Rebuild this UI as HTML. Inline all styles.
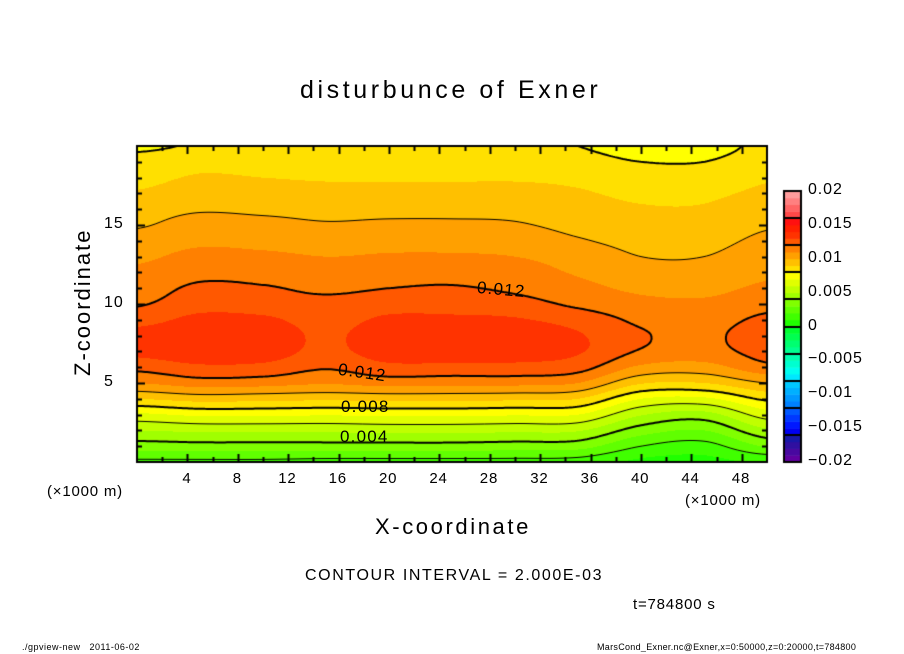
<!DOCTYPE html>
<html><head><meta charset="utf-8"><style>
body{margin:0;background:#fff;width:904px;height:654px;overflow:hidden;position:relative;font-family:"Liberation Sans",sans-serif}
.t{position:absolute;white-space:nowrap;color:#000}
canvas{position:absolute;left:0;top:0}
</style></head><body>
<canvas id="c" width="904" height="654"></canvas>
<div class="t" style="left:300px;top:76px;font-size:25px;letter-spacing:3.6px">disturbunce of Exner</div>
<div class="t" style="left:10px;top:292px;font-size:22px;letter-spacing:2px;transform:rotate(-90deg);transform-origin:72px 12px;width:144px">Z-coordinate</div>
<div class="t" style="left:375px;top:514px;font-size:22px;letter-spacing:2.6px">X-coordinate</div>
<div class="t" style="left:47px;top:483px;font-size:15px;letter-spacing:0.8px">(×1000 m)</div>
<div class="t" style="left:685px;top:492px;font-size:15px;letter-spacing:0.8px">(×1000 m)</div>
<div class="t" style="left:305px;top:567px;font-size:16px;letter-spacing:1.6px">CONTOUR INTERVAL = 2.000E-03</div>
<div class="t" style="left:633px;top:596px;font-size:15px;letter-spacing:0.8px">t=784800 s</div>
<div class="t" style="left:22px;top:642px;font-size:9px;letter-spacing:0.5px">./gpview-new&nbsp;&nbsp;&nbsp;2011-06-02</div>
<div class="t" style="left:597px;top:642px;font-size:9px;letter-spacing:0.3px">MarsCond_Exner.nc@Exner,x=0:50000,z=0:20000,t=784800</div>
<div id="lab"></div>
<script>
const xs=[0,5,10,15,20,25,30,35,40,45,50];
const zs=[0,1,2,3,4,5,6,7,8,9,10,11,12,13,14,15,16,17,18,19,20];
const col0=[.0018,.0035,.0050,.0068,.0090,.0110,.0123,.0133,.0134,.0126,.0119,.0115,.0112,.0108,.0104,.0099,.0096,.0091,.0087,.0084,.0078];
const col5=[.0018,.0036,.0052,.0072,.0094,.0115,.0128,.0137,.0138,.0133,.0126,.0122,.0117,.0113,.0108,.0104,.0099,.0095,.0091,.0087,.0081];
const col10=[.0018,.0036,.0052,.0072,.0093,.0114,.0127,.0136,.0137,.0132,.0125,.0121,.0116,.0112,.0107,.0103,.0098,.0094,.0090,.0086,.0081];
const col15=[.0017,.0036,.0052,.0071,.0092,.0111,.0121,.0127,.0128,.0126,.0123,.0118,.0114,.0110,.0106,.0101,.0097,.0093,.0089,.0085,.0080];
const col20=[.0017,.0036,.0053,.0072,.0093,.0114,.0127,.0136,.0137,.0132,.0126,.0120,.0116,.0111,.0107,.0102,.0097,.0093,.0089,.0086,.0081];
const col25=[.0017,.0036,.0053,.0072,.0093,.0113,.0127,.0136,.0137,.0132,.0126,.0121,.0116,.0111,.0107,.0102,.0097,.0093,.0089,.0086,.0081];
const col30=[.0017,.0035,.0052,.0071,.0092,.0113,.0127,.0135,.0136,.0131,.0124,.0118,.0114,.0110,.0106,.0101,.0097,.0093,.0089,.0085,.0081];
const col35=[.0016,.0034,.0051,.0070,.0090,.0110,.0124,.0131,.0131,.0126,.0118,.0113,.0109,.0106,.0101,.0097,.0094,.0091,.0088,.0084,.0080];
const col40=[.0008,.0020,.0035,.0051,.0070,.0091,.0108,.0119,.0121,.0118,.0113,.0108,.0104,.0100,.0097,.0094,.0091,.0088,.0085,.0080,.0075];
const col45=[.0007,.0016,.0030,.0046,.0068,.0090,.0106,.0116,.0118,.0116,.0112,.0107,.0103,.0100,.0097,.0094,.0091,.0088,.0084,.0080,.0075];
const col50=[.0012,.0031,.0048,.0065,.0082,.0100,.0117,.0124,.0125,.0122,.0117,.0112,.0108,.0105,.0102,.0099,.0096,.0092,.0089,.0086,.0083];
const cols=[col0,col5,col10,col15,col20,col25,col30,col35,col40,col45,col50];
const xTicks=[4,8,12,16,20,24,28,32,36,40,44,48];
const zTicks=[5,10,15];
const cbTicks=[0.02,0.015,0.01,0.005,0,-0.005,-0.01,-0.015,-0.02];
const cbLabels=["0.02","0.015","0.01","0.005","0","\u22120.005","\u22120.01","\u22120.015","\u22120.02"];
const palette=["6000a0","4808a0","3010a0","1818a8","0000f0","0018ff","0038ff","0058ff","0080ff","0098ff","00b0ff","00c8ff","00e8ff","00fff0","00ffd0","00ffb0","00ff90","00ff70","00ff50","00ff30","20ff00","40ff00","60ff00","80ff00","a0ff00","c0ff00","e0ff00","ffff00","ffe000","ffc000","ffa000","ff8000","ff5800","ff3300","ff2000","ff1010","ff4848","ff6464","ff8080","ff9c9c"];
const PL=137,PR=767,PT=146,PB=462;
const X=x=>PL+(x-xs[0])/(xs[xs.length-1]-xs[0])*(PR-PL);
const Z=z=>PB-(z-zs[0])/(zs[zs.length-1]-zs[0])*(PB-PT);
function cr(p0,p1,p2,p3,t){return 0.5*((2*p1)+(-p0+p2)*t+(2*p0-5*p1+4*p2-p3)*t*t+(-p0+3*p1-3*p2+p3)*t*t*t);}
function g(i,j){i=Math.max(0,Math.min(xs.length-1,i));j=Math.max(0,Math.min(zs.length-1,j));return cols[i][j];}
function val(x,z){
  let i=0;while(i<xs.length-2&&x>xs[i+1])i++;
  let j=0;while(j<zs.length-2&&z>zs[j+1])j++;
  const tx=Math.min(1,Math.max(0,(x-xs[i])/(xs[i+1]-xs[i]))),tz=Math.min(1,Math.max(0,(z-zs[j])/(zs[j+1]-zs[j])));
  const r=[];
  for(let jj=j-1;jj<=j+2;jj++)r.push(cr(g(i-1,jj),g(i,jj),g(i+1,jj),g(i+2,jj),tx));
  return cr(r[0],r[1],r[2],r[3],tz);
}
const invX=px=>xs[0]+(px-PL)/(PR-PL)*(xs[xs.length-1]-xs[0]);
const invZ=py=>zs[0]+(PB-py)/(PB-PT)*(zs[zs.length-1]-zs[0]);
const cv=document.getElementById('c'),ctx=cv.getContext('2d');
ctx.fillStyle='#fff';ctx.fillRect(0,0,904,654);
const W=PR-PL,H=PB-PT;
const img=ctx.getImageData(PL,PT,W,H);
for(let py=0;py<H;py++)for(let px=0;px<W;px++){
  const v=val(invX(PL+px+0.5),invZ(PT+py+0.5));
  let k=Math.floor((v+0.02)/0.001);k=Math.max(0,Math.min(39,k));
  const h=palette[k],o=(py*W+px)*4;
  img.data[o]=parseInt(h.slice(0,2),16);img.data[o+1]=parseInt(h.slice(2,4),16);img.data[o+2]=parseInt(h.slice(4,6),16);img.data[o+3]=255;
}
ctx.putImageData(img,PL,PT);
const S=2;
const levels=[];for(let l=-0.002;l<=0.016+1e-9;l+=0.002)levels.push(+l.toFixed(4));
ctx.strokeStyle='#000';
levels.forEach(L=>{
  const thick=Math.abs(Math.round(L/0.002))%2===0;
  ctx.lineWidth=thick?2:1;ctx.beginPath();
  for(let py=PT;py<PB;py+=S)for(let px=PL;px<PR;px+=S){
    const p=[[px,py],[px+S,py],[px+S,py+S],[px,py+S]];
    const v=p.map(q=>val(invX(q[0]),invZ(q[1]))-L);
    const pts=[];
    for(let e=0;e<4;e++){const a=v[e],b=v[(e+1)%4];
      if((a<0)!==(b<0)){const t=a/(a-b);pts.push([p[e][0]+(p[(e+1)%4][0]-p[e][0])*t,p[e][1]+(p[(e+1)%4][1]-p[e][1])*t]);}}
    for(let k=0;k+1<pts.length;k+=2){ctx.moveTo(pts[k][0],pts[k][1]);ctx.lineTo(pts[k+1][0],pts[k+1][1]);}
  }
  ctx.stroke();
});
ctx.lineWidth=2;ctx.strokeRect(PL,PT,PR-PL,PB-PT);
ctx.beginPath();
for(let x=2;x<50;x+=2){const maj=x%4===0,L=maj?8:5,px=Math.round(X(x))+.5;
  ctx.moveTo(px,PB);ctx.lineTo(px,PB-L);ctx.moveTo(px,PT);ctx.lineTo(px,PT+L);}
for(let z=1;z<20;z++){const maj=z%5===0,L=maj?8:5,py=Math.round(Z(z))+.5;
  ctx.moveTo(PL,py);ctx.lineTo(PL+L,py);ctx.moveTo(PR,py);ctx.lineTo(PR-L,py);}
ctx.stroke();
const CL=784,CR=801,CT=191,CB=462;
const cbY=v=>CB-(v+0.02)/0.04*(CB-CT);
for(let k=0;k<40;k++){const v0=-0.02+k*0.001;ctx.fillStyle='#'+palette[k];
  ctx.fillRect(CL,cbY(v0+0.001),CR-CL,cbY(v0)-cbY(v0+0.001)+0.5);}
ctx.lineWidth=2;ctx.beginPath();
for(let v=-0.016;v<0.0165;v+=0.004){const y=Math.round(cbY(v));ctx.moveTo(CL,y);ctx.lineTo(CR,y);}
ctx.stroke();ctx.strokeRect(CL,CT,CR-CL,CB-CT);
const lab=document.getElementById('lab');
function addText(name,txt,l,t,fs,ls){const d=document.createElement('div');d.className='t';
  
  
  d.textContent=txt;d.style.left=l+'px';d.style.top=t+'px';d.style.fontSize=fs+'px';d.style.letterSpacing=(ls||0)+'px';lab.appendChild(d);}
xTicks.forEach(x=>addText('x-tick-label',String(x),X(x)-(x<10?5:10),470,15,0.8));
zTicks.forEach(z=>addText('y-tick-label',String(z),104,Z(z)-10,16,1));
cbTicks.forEach((v,i)=>addText('colorbar-tick-label',cbLabels[i],808,cbY(v)-10,16,0.9));
const cl=[["0.012",477,280,5],["0.012",338,363,8],["0.008",341,397,0],["0.004",340,427,0]];
cl.forEach(c=>{
  const d=document.createElement('div');d.className='t';
  
  
  d.textContent=c[0];d.style.left=c[1]+'px';d.style.top=c[2]+'px';d.style.fontSize='17px';d.style.letterSpacing='1.2px';
  d.style.transform='rotate('+c[3]+'deg)';lab.appendChild(d);
});
</script>
</body></html>
